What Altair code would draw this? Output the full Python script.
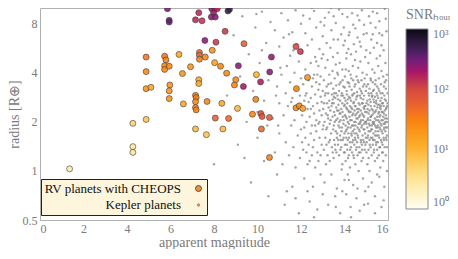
import altair as alt
import pandas as pd

# ---------------- RV planets with CHEOPS ----------------
rv_mag = [1.36, 4.27, 4.27, 4.27, 4.88, 4.88, 4.88, 4.88, 5.1, 5.73, 5.79, 5.73, 5.73, 5.94,
          5.97, 5.94, 5.94, 5.86, 5.94, 5.94, 6.39, 6.55, 6.59, 6.92, 7.15, 7.3, 7.45, 7.33,
          7.33, 7.33, 7.3, 7.3, 7.15, 7.18, 7.15, 7.15, 7.18, 7.15, 7.65, 7.58, 7.6, 7.68,
          7.92, 7.9, 8.05, 7.98, 7.88, 8.06, 8.15, 8.09, 8.03, 8.06, 8.3, 8.36, 8.41, 8.51,
          8.58, 8.64, 8.71, 8.67, 8.94, 9.0, 9.08, 9.12, 9.35, 9.38, 9.77, 9.92, 9.95, 10.14,
          10.15, 10.21, 10.18, 10.55, 10.56, 10.55, 10.64, 11.77, 11.97, 11.79, 11.77, 11.92,
          12.08, 12.3]
rv_rad = [1.03, 1.96, 1.41, 1.30, 2.07, 5.0, 4.07, 3.2, 3.26, 5.06, 4.8, 4.42, 4.2, 4.39,
          3.37, 3.1, 2.78, 9.9, 8.4, 8.2, 5.19, 3.96, 2.58, 4.36, 8.46, 9.36, 8.35, 5.33,
          5.13, 4.85, 3.63, 3.44, 2.91, 2.82, 2.66, 2.45, 2.37, 1.81, 1.67, 6.32, 5.0, 2.67,
          5.5, 9.9, 9.9, 9.36, 8.8, 8.8, 9.9, 6.17, 4.62, 2.11, 4.39, 2.60, 1.81, 7.19,
          3.98, 9.6, 9.8, 2.10, 3.37, 3.63, 2.42, 4.42, 3.30, 6.04, 2.23, 2.75, 3.9, 3.52,
          2.25, 2.16, 1.81, 2.13, 4.05, 1.21, 5.0, 5.8, 5.4, 3.2, 2.44, 2.51, 2.42, 3.75]
rv_snr = [2.5, 5, 3, 3, 7, 40, 28, 22, 14, 40, 32, 28, 28, 28, 22, 22, 22, 300, 350, 350,
          14, 22, 14, 22, 150, 150, 130, 45, 50, 32, 14, 14, 32, 32, 28, 32, 32, 9, 7, 250,
          28, 28, 22, 300, 300, 200, 250, 250, 150, 120, 16, 60, 28, 14, 9, 120, 28, 500,
          500, 50, 28, 28, 9, 250, 200, 60, 28, 32, 10, 180, 80, 80, 50, 70, 250, 32, 200,
          100, 120, 28, 28, 28, 16, 22]

# ---------------- Kepler planets (estimated from the grey cloud) ----------------
kepler_sparse = [
    (8.0, 1.1), (8.6, 2.9), (8.9, 6.8), (9.1, 1.45), (9.2, 3.8), (9.3, 8.9), (9.4, 1.2),
    (9.5, 2.0), (9.6, 5.2), (9.7, 0.85), (9.8, 3.1), (9.9, 7.6), (9.95, 9.2), (10.0, 1.6),
    (10.0, 2.3), (10.1, 4.6), (10.2, 9.5), (10.2, 5.5), (10.3, 2.7), (10.3, 1.15),
    (10.4, 6.1), (10.45, 1.9), (10.5, 3.6), (10.5, 0.7), (10.6, 8.2),
    (10.7, 2.1), (10.7, 4.9), (10.8, 1.3), (10.8, 7.3), (10.9, 3.3), (10.9, 0.95),
    (11.0, 2.6), (11.0, 5.8), (11.0, 1.7), (11.1, 9.3), (11.1, 3.9), (11.15, 1.1),
    (11.2, 2.2), (11.2, 6.6), (11.25, 0.62), (11.3, 3.0), (11.3, 1.5), (11.35, 4.4),
    (11.4, 8.4), (11.4, 2.5), (11.45, 1.25), (11.5, 3.5), (11.5, 5.1), (11.55, 1.9),
    (11.6, 0.8), (11.6, 2.8), (11.6, 7.1), (11.65, 1.4), (11.7, 4.0), (11.7, 2.05),
    (11.75, 9.7), (11.75, 1.05), (11.8, 3.2), (11.8, 6.0), (11.85, 1.65),
    (11.9, 4.7), (11.9, 0.55), (11.95, 2.9), (11.95, 1.2), (12.0, 8.0), (12.0, 3.7),
    (12.0, 1.8), (11.05, 4.3), (11.55, 2.65), (10.95, 1.9), (11.35, 0.75), (11.65, 5.5),
    (11.75, 0.68), (10.85, 2.9), (11.45, 6.9),
    (12.05, 2.2), (12.05, 5.3), (12.1, 1.35), (12.1, 3.4), (12.1, 9.0), (12.15, 0.9),
    (12.15, 2.7), (12.2, 4.2), (12.2, 1.6), (12.2, 7.0), (12.25, 2.0), (12.25, 3.0),
    (12.3, 1.1), (12.3, 5.9), (12.3, 2.4), (12.35, 1.45), (12.35, 3.6), (12.4, 8.6),
    (12.4, 2.15), (12.4, 0.65), (12.45, 2.8), (12.45, 4.6), (12.5, 1.25), (12.5, 1.9),
    (12.5, 3.3), (12.5, 6.4), (12.55, 2.5), (12.55, 0.8), (12.6, 1.55), (12.6, 3.9),
    (12.6, 9.6), (12.6, 2.25), (12.65, 1.05), (12.65, 2.95), (12.65, 5.0), (12.7, 1.75),
    (12.7, 3.5), (12.7, 7.6), (12.7, 2.05), (12.75, 1.3), (12.75, 2.6), (12.75, 0.58),
    (12.8, 4.4), (12.8, 1.95), (12.8, 3.15), (12.8, 1.15), (12.85, 2.35), (12.85, 5.6),
    (12.85, 1.6), (12.9, 2.85), (12.9, 0.95), (12.9, 8.2), (12.9, 3.8), (12.95, 1.45),
    (12.95, 2.2), (12.95, 4.9), (13.0, 1.8), (13.0, 3.1), (13.0, 0.72), (13.0, 6.7),
    (12.15, 1.85), (12.25, 1.3), (12.35, 2.65), (12.45, 1.7), (12.55, 3.7), (12.65, 1.9),
    (12.75, 3.9), (12.85, 2.0), (12.95, 2.65), (12.3, 0.75), (12.6, 0.52), (12.5, 10.0),
    (12.2, 2.9), (12.4, 1.15), (12.7, 4.7), (12.9, 1.25), (12.45, 2.4), (12.85, 3.4),
    (12.05, 1.5), (12.55, 1.4),
    (13.5, 8.9), (13.9, 9.2), (14.2, 6.8), (14.6, 9.0), (14.9, 7.9), (15.2, 8.1),
    (15.5, 9.3), (15.7, 5.9), (15.9, 8.6), (14.4, 7.9), (13.7, 6.4), (15.3, 6.9),
    (14.1, 5.3), (15.0, 5.5), (15.6, 7.0), (14.7, 6.2), (13.6, 0.6), (14.3, 0.52),
    (14.9, 0.62), (15.4, 0.55), (15.8, 0.66), (14.6, 0.78), (15.1, 0.8), (13.9, 0.75),
    (15.6, 0.92), (14.2, 0.88),
]
kepler_dense = [
    (13.02, [2.4, 5.2]), (13.03, [1.9]), (13.05, [1.35, 3.6]), (13.06, [2.6]), (13.07, [7.8]),
    (13.08, [2.0, 0.85]), (13.1, [2.9, 8.7]), (13.12, [1.6, 4.3]), (13.13, [3.0]),
    (13.15, [2.25, 1.1]), (13.16, [1.8]), (13.17, [1.45]), (13.18, [3.3, 6.1]),
    (13.2, [1.85, 2.6]), (13.22, [1.25, 4.8]), (13.23, [2.2]), (13.25, [2.1, 3.0, 0.62]),
    (13.26, [3.4]), (13.27, [2.45]), (13.28, [1.5, 9.4]), (13.3, [2.7, 3.9]),
    (13.32, [1.95, 1.15]), (13.33, [1.55]), (13.35, [2.35, 5.7]), (13.36, [2.05]),
    (13.37, [10.0]), (13.38, [1.7, 3.45]), (13.4, [2.5, 0.95, 7.3]), (13.42, [1.4, 2.95]),
    (13.43, [2.6]), (13.45, [2.15, 4.1]), (13.46, [1.3, 2.75]), (13.47, [5.0]),
    (13.48, [1.8, 3.2]), (13.5, [2.6, 1.2, 6.4]), (13.51, [1.9, 2.85]), (13.52, [1.55, 2.3]),
    (13.53, [3.0]), (13.55, [3.7, 2.0]), (13.56, [1.45, 2.2]), (13.57, [0.7]),
    (13.58, [1.35, 2.8]), (13.6, [4.5, 1.75, 8.1]), (13.61, [2.05, 3.0]),
    (13.62, [2.45, 3.35]), (13.63, [1.3]), (13.65, [1.6, 0.78]), (13.66, [1.7, 2.35]),
    (13.67, [4.0]), (13.68, [2.1, 2.9, 5.3]), (13.7, [1.45, 3.9]), (13.71, [2.75, 1.55]),
    (13.72, [2.55, 1.9]), (13.73, [2.35]), (13.75, [1.25, 3.1, 9.8]), (13.76, [2.0, 3.4]),
    (13.77, [1.85]), (13.78, [2.25, 4.6]), (13.8, [1.65, 2.7, 0.55]), (13.81, [1.35, 2.25]),
    (13.82, [3.5, 2.05]), (13.83, [1.55]), (13.85, [1.4, 2.4, 6.9]), (13.86, [2.9, 1.75]),
    (13.87, [1.02]), (13.88, [1.85, 3.0]), (13.9, [2.6, 1.1, 4.2]), (13.91, [2.3, 3.6]),
    (13.92, [1.55, 2.15]), (13.93, [2.9]), (13.95, [3.3, 1.95, 5.9]), (13.96, [1.6, 2.05]),
    (13.97, [7.6]), (13.98, [1.3, 2.5]), (14.0, [2.8, 1.7, 0.88]),
    (14.01, [2.55, 1.3, 3.25]), (14.02, [2.2, 1.45, 3.8, 6.3]), (14.05, [1.9, 2.7, 1.15]),
    (14.06, [1.75, 2.15, 4.2]), (14.08, [2.45, 1.6, 4.9, 0.72]), (14.1, [3.1, 1.8, 2.1]),
    (14.11, [2.4, 1.45, 2.95]), (14.13, [1.35, 2.6, 8.8]), (14.15, [2.0, 3.5, 1.55, 0.95]),
    (14.16, [1.85, 2.75, 1.2]), (14.18, [2.35, 1.7, 5.6]), (14.2, [2.85, 1.25, 4.1, 1.95]),
    (14.21, [2.3, 1.6, 3.45]), (14.23, [2.15, 3.3, 7.1]), (14.25, [1.5, 2.5, 1.05]),
    (14.26, [2.05, 2.8, 1.35]), (14.28, [1.85, 3.9, 2.3, 0.6]), (14.3, [2.7, 1.4, 5.2]),
    (14.31, [1.7, 2.45, 3.7]), (14.33, [2.05, 3.15, 1.65]), (14.35, [1.3, 2.4, 9.3, 1.9]),
    (14.36, [2.2, 1.5, 2.9]), (14.38, [2.95, 1.75, 4.4]), (14.4, [2.25, 1.55, 3.6, 0.82]),
    (14.41, [1.9, 2.6, 1.25]), (14.43, [1.2, 2.65, 6.0]), (14.45, [2.0, 3.0, 1.45, 1.8]),
    (14.46, [2.35, 1.7, 3.3]), (14.48, [2.5, 1.6, 4.8]), (14.5, [1.9, 3.4, 2.2, 1.1, 7.5]),
    (14.51, [1.55, 2.5, 2.0]), (14.53, [1.35, 2.75, 5.4]), (14.55, [2.1, 1.7, 3.8, 0.68]),
    (14.56, [2.85, 1.4, 2.25]), (14.58, [2.4, 1.5, 3.05]), (14.6, [1.85, 2.9, 1.25, 6.6]),
    (14.61, [2.1, 1.65, 3.6]), (14.63, [2.3, 1.6, 4.3]), (14.65, [1.95, 3.5, 1.0, 2.6]),
    (14.66, [2.4, 1.8, 1.3]), (14.68, [1.4, 2.15, 8.4]), (14.7, [2.55, 1.75, 3.2, 0.57]),
    (14.71, [1.95, 2.9, 2.2]), (14.73, [2.0, 1.3, 4.7]), (14.75, [2.8, 1.55, 2.35, 5.8]),
    (14.76, [1.5, 2.05, 3.1]), (14.78, [1.85, 3.6, 1.15]), (14.8, [2.25, 1.45, 3.0, 9.7]),
    (14.81, [2.6, 1.9, 1.35]), (14.83, [1.65, 2.6, 4.0]), (14.85, [2.05, 1.2, 3.3, 0.9]),
    (14.86, [2.2, 1.55, 2.75]), (14.88, [2.45, 1.8, 6.9]), (14.9, [1.5, 2.9, 2.15, 1.95]),
    (14.91, [1.8, 3.4, 2.4]), (14.93, [3.7, 1.35, 2.5]), (14.95, [1.7, 2.3, 5.0, 0.75]),
    (14.96, [2.5, 1.45, 2.0]), (14.98, [2.0, 3.1, 1.6]),
    (15.01, [1.95, 2.6, 1.3, 3.3]), (15.02, [2.3, 1.5, 3.9, 7.0]), (15.05, [1.85, 2.7, 1.1]),
    (15.06, [2.4, 1.6, 2.05]), (15.08, [2.1, 3.4, 1.65, 0.63]), (15.1, [2.55, 1.35, 4.6]),
    (15.11, [1.75, 2.25, 3.0, 1.2]), (15.13, [1.95, 2.9, 8.9]), (15.15, [1.55, 2.35, 3.2, 1.0]),
    (15.16, [2.75, 1.9, 1.45]), (15.18, [2.05, 1.75, 5.3]), (15.2, [2.65, 1.4, 3.7, 2.15]),
    (15.21, [2.15, 2.5, 1.6, 3.6]), (15.23, [1.8, 3.0, 6.4]), (15.25, [2.4, 1.25, 1.9, 0.85]),
    (15.26, [1.8, 2.85, 2.2]), (15.28, [2.9, 1.6, 4.2]), (15.3, [2.0, 3.5, 1.45, 9.5]),
    (15.31, [2.35, 1.55, 1.95, 3.1]), (15.33, [2.25, 1.7, 2.75]), (15.35, [1.3, 3.15, 5.7, 1.95]),
    (15.36, [2.0, 2.65, 1.35]), (15.38, [2.5, 1.55, 4.0]), (15.4, [2.1, 2.85, 1.15, 0.7]),
    (15.41, [1.65, 2.3, 3.4, 1.9]), (15.43, [1.75, 3.6, 7.6]), (15.45, [2.35, 1.45, 2.6, 1.85]),
    (15.46, [2.7, 2.05, 1.5]), (15.48, [3.0, 1.65, 4.9]), (15.5, [2.15, 1.35, 3.3, 6.1, 0.95]),
    (15.51, [1.85, 2.45, 1.2, 2.9]), (15.53, [1.9, 2.55, 1.5]), (15.55, [2.8, 1.75, 4.4, 2.05]),
    (15.56, [2.25, 1.65, 3.2]), (15.58, [1.25, 2.3, 3.7]), (15.6, [2.0, 1.6, 3.1, 8.3]),
    (15.61, [2.55, 1.85, 1.4, 2.15]), (15.63, [2.45, 1.4, 5.1]), (15.65, [1.8, 2.7, 1.05, 2.2]),
    (15.66, [1.95, 3.0, 2.4]), (15.68, [3.4, 1.55, 2.5]), (15.7, [2.05, 1.9, 4.1, 0.6]),
    (15.71, [2.3, 1.5, 1.75, 2.8]), (15.73, [2.6, 1.3, 6.8]), (15.75, [1.7, 3.0, 2.3, 1.45]),
    (15.76, [2.05, 2.6, 1.3]), (15.78, [2.15, 3.8, 1.15]), (15.8, [2.5, 1.6, 5.5, 1.95]),
    (15.81, [1.8, 2.25, 3.3, 1.55]), (15.83, [1.85, 2.9, 0.8]), (15.85, [2.35, 1.4, 3.5, 9.9]),
    (15.86, [2.75, 1.95, 2.1]), (15.88, [2.0, 1.75, 4.6]), (15.9, [2.7, 1.25, 2.2, 3.2]),
    (15.91, [2.4, 1.6, 1.85, 3.6]), (15.93, [1.55, 2.45, 7.2]), (15.95, [2.1, 3.9, 1.65, 1.0]),
    (15.96, [2.0, 2.5, 1.4]), (15.98, [2.6, 1.85, 3.0]),
]

x_ticks = [0, 2, 4, 6, 8, 10, 12, 14, 16]
y_ticks = [0.5, 1, 2, 4, 8]
snr_ticks = [1, 10, 100, 1000]
snr_stops = [1, 3.162, 10, 31.62, 100, 316.2, 1000]
snr_colors = ["#fffef4", "#ffe496", "#fdb32f", "#f8800f", "#d4493e", "#6c1f78", "#0b0612"]

RV = "RV planets with CHEOPS"
KEP = "Kepler planets"

kep_mag, kep_rad = [], []
for m, r in kepler_sparse:
    kep_mag.append(m)
    kep_rad.append(r)
for m, rs in kepler_dense:
    for r in rs:
        kep_mag.append(m)
        kep_rad.append(r)

rv_df = pd.DataFrame({"mag": rv_mag, "rad": rv_rad, "snr": rv_snr, "kind": RV})
kep_df = pd.DataFrame({"mag": kep_mag, "rad": kep_rad, "kind": KEP})

FONT = "Liberation Serif"
GRAY = "#7a7a7a"

x_enc = alt.X(
    "mag:Q",
    scale=alt.Scale(domain=[0, 16], nice=False, zero=False),
    axis=alt.Axis(
        title="apparent magnitude", values=x_ticks, format="d", grid=False, ticks=False,
        domain=False, labelFont=FONT, labelFontSize=12, labelColor=GRAY, labelPadding=3,
        titleFont=FONT, titleFontSize=14, titleFontWeight="normal", titleColor=GRAY,
        titleY=26, titleBaseline="alphabetic",
    ),
)
y_enc = alt.Y(
    "rad:Q",
    scale=alt.Scale(type="log", domain=[0.5, 10], nice=False),
    axis=alt.Axis(
        title="radius [R⊕]", values=y_ticks, format="~g", grid=False, ticks=False,
        domain=False, labelFont=FONT, labelFontSize=12, labelColor=GRAY, labelPadding=3,
        titleFont=FONT, titleFontSize=14, titleFontWeight="normal", titleColor=GRAY,
        titlePadding=1,
    ),
)
kind_legend = alt.Legend(
    title=None, orient="none", legendX=1, legendY=171,
    fillColor="#fdf5dc", strokeColor="#222222", padding=3,
    labelFont=FONT, labelFontSize=13, labelColor="#111111", labelAlign="right",
    labelOffset={"expr": "-24"}, symbolOffset=148, symbolStrokeWidth=0.8, rowPadding=2.5,
    labelLimit=300, symbolFillColor="#f0903a", symbolOpacity=1,
)
size_enc = alt.Size(
    "kind:N",
    scale=alt.Scale(domain=[RV, KEP], range=[36, 6]),
    legend=kind_legend,
)
stroke_enc = alt.Stroke(
    "kind:N",
    scale=alt.Scale(domain=[RV, KEP], range=["#3a3a3a", "#8a8a8a"]),
    legend=kind_legend,
)

kep_layer = alt.Chart(kep_df).mark_point(
    filled=True, clip=True, opacity=1, fillOpacity=0.75, strokeWidth=0
).encode(
    x=x_enc, y=y_enc, size=size_enc, stroke=stroke_enc,
    color=alt.Color("kind:N", scale=alt.Scale(domain=[KEP], range=["#858585"]), legend=None),
)

rv_layer = alt.Chart(rv_df).mark_point(
    filled=True, clip=True, strokeWidth=0.6, opacity=1, fillOpacity=0.88
).encode(
    x=x_enc, y=y_enc, size=size_enc, stroke=stroke_enc,
    fill=alt.Fill(
        "snr:Q",
        scale=alt.Scale(type="log", domain=snr_stops, range=snr_colors),
        legend=alt.Legend(
            title="SNRₕₒᵤᵣ", orient="none", legendX=366, legendY=0, direction="vertical",
            gradientLength=180, gradientThickness=22, gradientStrokeColor="#888888",
            gradientStrokeWidth=1, values=snr_ticks,
            labelExpr="datum.value == 1 ? '10⁰' : datum.value == 10 ? '10¹' : datum.value == 100 ? '10²' : '10³'",
            labelFont=FONT, labelFontSize=12, labelColor=GRAY, labelOffset=5,
            titleFont=FONT, titleFontSize=14, titleFontWeight="normal", titleColor=GRAY,
            titlePadding=7,
        ),
    ),
)

chart = alt.layer(kep_layer, rv_layer).properties(
    width=348, height=212,
    padding={"left": 32, "top": 0, "right": 62, "bottom": 29},
    autosize=alt.AutoSizeParams(type="none"),
).configure(font=FONT).configure_view(stroke="#b0b0b0", strokeWidth=1)

chart.save("out.html", embed_options={"renderer": "svg", "actions": False})
